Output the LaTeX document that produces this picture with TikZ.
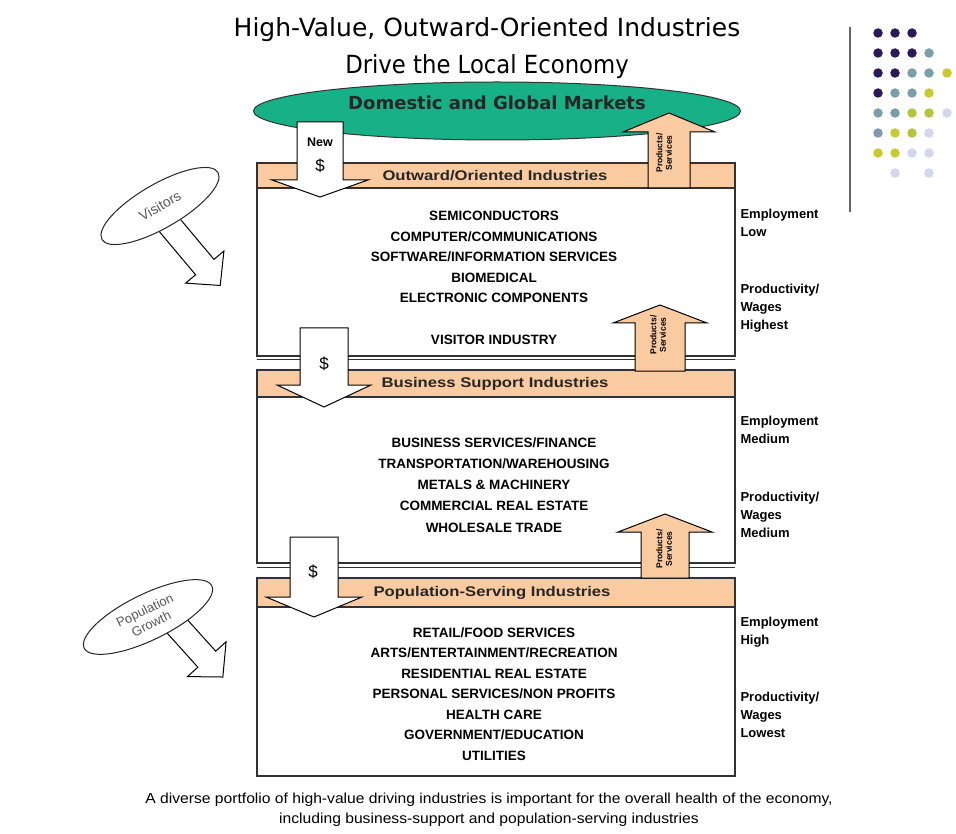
\documentclass[tikz,border=0pt]{standalone}
\usepackage{fontspec}
\setmainfont{Liberation Sans}
\newfontfamily\titlefont{DejaVu Sans}
\usetikzlibrary{shapes.geometric}
\definecolor{peach}{RGB}{250,202,160}
\definecolor{mkt}{RGB}{24,176,134}
\definecolor{dk}{RGB}{43,26,90}
\definecolor{tg}{RGB}{122,159,166}
\definecolor{yl}{RGB}{201,201,50}
\definecolor{yg}{RGB}{181,196,60}
\definecolor{lv}{RGB}{212,214,234}
\definecolor{bg}{RGB}{128,152,176}
\definecolor{edge}{RGB}{50,50,50}
\newcommand\blockarr[7]{%
  \draw[#1] ({#2-#6},#3) -- ({#2+#6},#3) -- ({#2+#6},#4) -- ({#2+#7},#4) -- (#2,#5) -- ({#2-#7},#4) -- ({#2-#6},#4) -- cycle;}
\tikzset{
  band/.style={draw=edge,line width=1.2pt,fill=peach},
  panel/.style={draw=edge,line width=1.2pt,fill=white},
  downarr/.style={draw=black,line width=1pt,fill=white,line join=miter},
  uparr/.style={draw=black,line width=1pt,fill=peach,line join=miter},
  listtxt/.style={font=\bfseries\fontsize{13.5}{20.5}\selectfont,align=center,text=black},
  bandtxt/.style={font=\bfseries\fontsize{14}{15}\selectfont,xscale=1.19,text=black!85},
  sidetxt/.style={font=\bfseries\fontsize{13}{18}\selectfont,align=left,anchor=north west,text=black},
  pstxt/.style={font=\bfseries\fontsize{8.5}{9.5}\selectfont,align=center,rotate=90},
  dot/.style={circle,inner sep=0pt,minimum size=9.5pt},
  srcell/.style={ellipse,draw=black!85,line width=1pt,fill=white,text=black!65,align=center,inner sep=0pt}
}
\begin{document}
\begin{tikzpicture}[x=1pt,y=-1pt]
\useasboundingbox (0,0) rectangle (956,834);
% title
\node[font=\titlefont\fontsize{25}{30}\selectfont] (t1) at (487,30) {High-Value, Outward-Oriented Industries};
\node[font=\titlefont\fontsize{25}{30}\selectfont,xscale=0.91] (t2) at (487,67) {Drive the Local Economy};
% dots and bar
\draw[line width=2.5pt,black!60] (850,27) coordinate (barTop) -- (850,212) coordinate (barBot);
\foreach \x/\y/\c in {878/33/dk,895/33/dk,912/33/dk,
  878/53/dk,895/53/dk,912/53/dk,929/53/tg,
  878/73/dk,895/73/dk,912/73/tg,929/73/tg,947/73/yl,
  878/93/dk,895/93/tg,912/93/tg,929/93/yl,
  878/113/tg,895/113/tg,912/113/yg,929/113/yg,947/113/lv,
  878/133/bg,895/133/yl,912/133/yg,929/133/lv,
  878/153/yl,895/153/yl,912/153/lv,929/153/lv,
  895/173/lv,929/173/lv}
  \node[dot,fill=\c] (d\x-\y) at (\x,\y) {};
% panels and bands
\draw[panel] (257,188) rectangle (735,356);
\draw[edge,line width=0.8pt] (257,359) coordinate (s1a) -- (735,359) coordinate (s1b);
\draw[band] (257,163) rectangle (735,188);
\draw[panel] (257,397) rectangle (735,563);
\draw[edge,line width=0.8pt] (257,567) coordinate (s2a) -- (735,567) coordinate (s2b);
\draw[band] (257,370) rectangle (735,397);
\draw[panel] (257,607) rectangle (735,776);
\draw[band] (257,578) rectangle (735,607);
% market ellipse
\node[ellipse,draw=black!80,line width=1pt,fill=mkt,minimum width=487pt,minimum height=58pt,inner sep=0pt] (mkt) at (497,111) {};
\node[font=\titlefont\bfseries\fontsize{18}{20}\selectfont,text=black!85] (mktxt) at (497,103) {Domestic and Global Markets};
% up arrows
\blockarr{uparr}{669}{188}{132}{113}{21}{46}
\blockarr{uparr}{660}{371}{323}{305}{25}{47}
\blockarr{uparr}{665}{578}{532}{514}{24}{47}
\node[pstxt] (ps1) at (664,153) {Products/\\Services};
\node[pstxt] (ps2) at (658,335) {Products/\\Services};
\node[pstxt] (ps3) at (664,549) {Products/\\Services};
% down arrows
\blockarr{downarr}{320}{122}{180}{197}{23}{48}
\blockarr{downarr}{324}{328}{385}{407}{24}{47}
\blockarr{downarr}{314}{537}{597}{617}{24}{48}
\node[font=\bfseries\fontsize{12.5}{13}\selectfont] (new) at (320,142) {New};
\node[font=\fontsize{17}{18}\selectfont] (usd1) at (320,166) {\$};
\node[font=\fontsize{17}{18}\selectfont] (usd2) at (324,364) {\$};
\node[font=\fontsize{17}{18}\selectfont] (usd3) at (313,572) {\$};
% band titles
\node[bandtxt] (b1) at (495,176) {Outward/Oriented Industries};
\node[bandtxt] (b2) at (495,384) {Business Support Industries};
\node[bandtxt] (b3) at (492,593) {Population-Serving Industries};
% lists
\node[listtxt,anchor=north] (l1) at (494,208) {SEMICONDUCTORS\\COMPUTER/COMMUNICATIONS\\SOFTWARE/INFORMATION SERVICES\\BIOMEDICAL\\ELECTRONIC COMPONENTS};
\node[listtxt] (l1b) at (494,340) {VISITOR INDUSTRY};
\node[listtxt,anchor=north,font=\bfseries\fontsize{13.5}{21.2}\selectfont] (l2) at (494,434) {BUSINESS SERVICES/FINANCE\\TRANSPORTATION/WAREHOUSING\\METALS \& MACHINERY\\COMMERCIAL REAL ESTATE\\WHOLESALE TRADE};
\node[listtxt,anchor=north] (l3) at (494,624) {RETAIL/FOOD SERVICES\\ARTS/ENTERTAINMENT/RECREATION\\RESIDENTIAL REAL ESTATE\\PERSONAL SERVICES/NON PROFITS\\HEALTH CARE\\GOVERNMENT/EDUCATION\\UTILITIES};
% side labels
\node[sidetxt] (e1) at (737,206) {Employment\\Low};
\node[sidetxt] (p1) at (737,281) {Productivity/\\Wages\\Highest};
\node[sidetxt] (e2) at (737,413) {Employment\\Medium};
\node[sidetxt] (p2) at (737,489) {Productivity/\\Wages\\Medium};
\node[sidetxt] (e3) at (737,614) {Employment\\High};
\node[sidetxt] (p3) at (737,689) {Productivity/\\Wages\\Lowest};
% left inputs
\begin{scope}[shift={(172,228)},rotate=-50]
  \draw[downarr] (-20,-12) -- (51,-12) -- (51,-25) -- (75,0) -- (51,25) -- (51,12) -- (-20,12) -- cycle;
\end{scope}
\node[srcell,minimum width=134pt,minimum height=44pt,rotate=30,font=\fontsize{14}{15}\selectfont] (vis) at (160,206) {Visitors};
\begin{scope}[shift={(176,625)},rotate=-48]
  \draw[downarr] (-20,-12) -- (46,-12) -- (46,-26) -- (70,0) -- (46,26) -- (46,12) -- (-20,12) -- cycle;
\end{scope}
\node[srcell,minimum width=142pt,minimum height=46pt,rotate=26,font=\fontsize{13}{15}\selectfont] (pop) at (148,617) {Population\\Growth};
% caption
\node[font=\fontsize{14.5}{20}\selectfont,xscale=1.08,align=center] (cap) at (489,810) {A diverse portfolio of high-value driving industries is important for the overall health of the economy,\\including business-support and population-serving industries};
\end{tikzpicture}
\end{document}
